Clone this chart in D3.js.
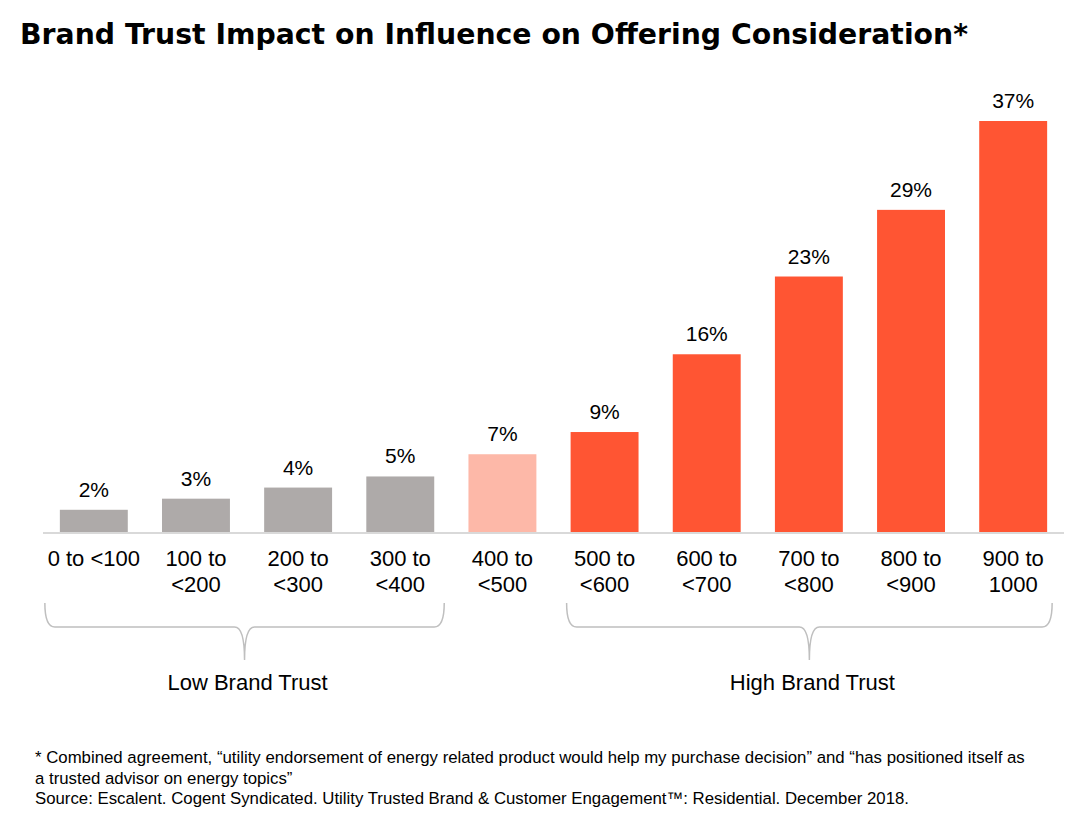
<!DOCTYPE html>
<html>
<head>
<meta charset="utf-8">
<script src="https://cdn.jsdelivr.net/npm/d3@7"></script>
<style>
  body { margin: 0; background: #fff; }
  svg { display: block; font-family: Arial, "Liberation Sans", sans-serif; }
</style>
</head>
<body>
<div class="canvas"></div>
<script>
// data
const categories = ['0 to <100', '100 to <200', '200 to <300', '300 to <400', '400 to <500',
    '500 to <600', '600 to <700', '700 to <800', '800 to <900', '900 to 1000']
const labelLines = [['0 to <100'], ['100 to', '<200'], ['200 to', '<300'], ['300 to', '<400'], ['400 to', '<500'],
    ['500 to', '<600'], ['600 to', '<700'], ['700 to', '<800'], ['800 to', '<900'], ['900 to', '1000']]
const values = [2, 3, 4, 5, 7, 9, 16, 23, 29, 37]
const trustLevel = ['low', 'low', 'low', 'low', 'mid', 'high', 'high', 'high', 'high', 'high']
const groups = [
    { name: 'Low Brand Trust', from: '0 to <100', to: '300 to <400', padL: 15, padR: 10 },
    { name: 'High Brand Trust', from: '500 to <600', to: '900 to 1000', padL: 4, padR: 5 }
]
const title = 'Brand Trust Impact on Influence on Offering Consideration*'
const notes = [
    '* Combined agreement, \u201cutility endorsement of energy related product would help my purchase decision\u201d and \u201chas positioned itself as',
    'a trusted advisor on energy topics\u201d',
    'Source: Escalent. Cogent Syndicated. Utility Trusted Brand & Customer Engagement\u2122: Residential. December 2018.'
]

const dims = { width: 1088, height: 818 }
const plot = { left: 43, right: 1064, base: 532, top: 121 }

const colors = d3.scaleOrdinal()
    .domain(['low', 'mid', 'high'])
    .range(['#AEAAA9', '#FDB8A8', '#FF5533'])

const svg = d3.select('.canvas')
    .append('svg')
    .attr('width', dims.width)
    .attr('height', dims.height)

svg.append('text')
    .attr('x', 20)
    .attr('y', 44)
    .attr('font-family', '"DejaVu Sans", sans-serif')
    .attr('font-weight', 'bold')
    .attr('font-size', 27.5)
    .attr('textLength', 948)
    .attr('lengthAdjust', 'spacingAndGlyphs')
    .attr('fill', '#000')
    .text(title)

const x = d3.scaleBand()
    .domain(categories)
    .range([plot.left, plot.right])
    .paddingInner(0.335)
    .paddingOuter(0.165)

const y = d3.scaleLinear()
    .domain([0, 37])
    .range([plot.base, plot.top])

const data = categories.map((c, i) => ({ cat: c, value: values[i], level: trustLevel[i], lines: labelLines[i] }))

// bars
svg.append('g').selectAll('rect')
    .data(data)
    .enter()
    .append('rect')
        .attr('x', d => x(d.cat))
        .attr('y', d => y(d.value))
        .attr('width', x.bandwidth())
        .attr('height', d => y(0) - y(d.value))
        .attr('fill', d => colors(d.level))

// value labels
svg.append('g').selectAll('text')
    .data(data)
    .enter()
    .append('text')
        .attr('x', d => x(d.cat) + x.bandwidth() / 2)
        .attr('y', d => y(d.value) - 13)
        .attr('text-anchor', 'middle')
        .attr('font-size', 21)
        .attr('fill', '#000')
        .text(d => d.value + '%')

// baseline
svg.append('line')
    .attr('x1', plot.left)
    .attr('x2', plot.right)
    .attr('y1', y(0) + 1)
    .attr('y2', y(0) + 1)
    .attr('stroke', '#D9D9D9')
    .attr('stroke-width', 2)

// category labels
const catLabels = svg.append('g').selectAll('text')
    .data(data)
    .enter()
    .append('text')
        .attr('text-anchor', 'middle')
        .attr('font-size', 22)
        .attr('fill', '#000')

catLabels.selectAll('tspan')
    .data(d => d.lines.map(l => ({ l, cx: x(d.cat) + x.bandwidth() / 2 })))
    .enter()
    .append('tspan')
        .attr('x', d => d.cx)
        .attr('y', (d, i) => 566 + i * 26)
        .text(d => d.l)

// braces under the groups
const braceTop = 603, braceMid = 627, braceTip = 660
groups.forEach(g => {
    const x0 = x(g.from) - g.padL
    const x1 = x(g.to) + x.bandwidth() + g.padR
    const xm = (x0 + x1) / 2
    const r = 10
    const path = d3.path()
    path.moveTo(x0, braceTop)
    path.quadraticCurveTo(x0, braceMid, x0 + r, braceMid)
    path.lineTo(xm - r, braceMid)
    path.quadraticCurveTo(xm, braceMid, xm, braceTip)
    path.quadraticCurveTo(xm, braceMid, xm + r, braceMid)
    path.lineTo(x1 - r, braceMid)
    path.quadraticCurveTo(x1, braceMid, x1, braceTop)
    svg.append('path')
        .attr('d', path.toString())
        .attr('fill', 'none')
        .attr('stroke', '#BFBFBF')
        .attr('stroke-width', 1.5)
    svg.append('text')
        .attr('x', xm + 3)
        .attr('y', 690)
        .attr('text-anchor', 'middle')
        .attr('font-size', 22)
        .attr('fill', '#000')
        .text(g.name)
})

// footnote
svg.append('g').selectAll('text')
    .data(notes)
    .enter()
    .append('text')
        .attr('x', 35)
        .attr('y', (d, i) => 763 + i * 20.5)
        .attr('font-size', 16.8)
        .attr('fill', '#000')
        .text(d => d)
</script>
</body>
</html>
